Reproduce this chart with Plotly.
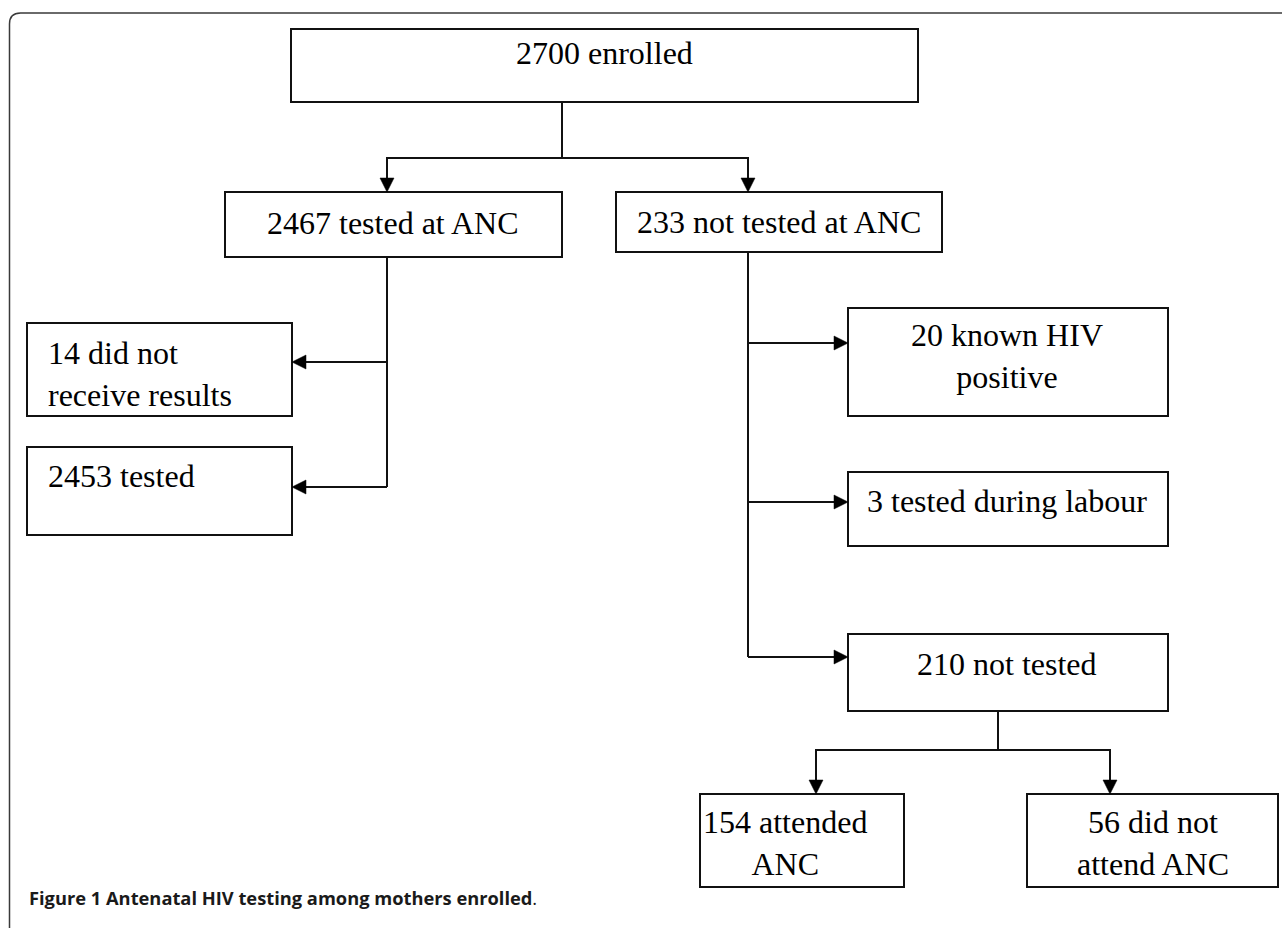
import plotly.graph_objects as go

# ---- data: flow of mothers through antenatal HIV testing ----
node_ids = ["enrolled", "tested_anc", "not_tested_anc", "no_results", "tested",
            "known_pos", "tested_labour", "not_tested", "attended", "not_attended"]
node_counts = [2700, 2467, 233, 14, 2453, 20, 3, 210, 154, 56]
node_texts = ["enrolled", "tested at ANC", "not tested at ANC", "did not<br>receive results",
              "tested", "known HIV<br>positive", "tested during labour", "not tested",
              "attended<br>ANC", "did not<br>attend ANC"]
edges = [("enrolled", "tested_anc"), ("enrolled", "not_tested_anc"),
         ("tested_anc", "no_results"), ("tested_anc", "tested"),
         ("not_tested_anc", "known_pos"), ("not_tested_anc", "tested_labour"),
         ("not_tested_anc", "not_tested"),
         ("not_tested", "attended"), ("not_tested", "not_attended")]
caption = "Figure 1 Antenatal HIV testing among mothers enrolled"

# ---- layout (pixel space of the page) ----
W, H = 1282, 928
boxes = {  # x0, x1, y0, y1
    "enrolled": (291, 918, 29, 102),
    "tested_anc": (225, 562, 192, 257),
    "not_tested_anc": (616, 942, 192, 252),
    "no_results": (27, 292, 323, 416),
    "tested": (27, 292, 447, 535),
    "known_pos": (848, 1168, 308, 416),
    "tested_labour": (848, 1168, 472, 546),
    "not_tested": (848, 1168, 634, 711),
    "attended": (700, 904, 794, 887),
    "not_attended": (1027, 1278, 794, 887),
}
text_pos = {  # x, y, xanchor
    "enrolled": (604, 53, "center"),
    "tested_anc": (393, 223, "center"),
    "not_tested_anc": (779, 222, "center"),
    "no_results": (46, 374, "left"),
    "tested": (46, 476, "left"),
    "known_pos": (1007, 356, "center"),
    "tested_labour": (1007, 501, "center"),
    "not_tested": (1007, 664, "center"),
    "attended": (785, 843, "center"),
    "not_attended": (1153, 843, "center"),
}
trunks = {
    "enrolled": [(562, 102), (562, 158)],
    "tested_anc": [(387, 257), (387, 487)],
    "not_tested_anc": [(748, 252), (748, 657)],
    "not_tested": [(998, 711), (998, 750)],
}
branches = {
    ("enrolled", "tested_anc"): [(562, 158), (387, 158), (387, 192)],
    ("enrolled", "not_tested_anc"): [(562, 158), (748, 158), (748, 192)],
    ("tested_anc", "no_results"): [(387, 362), (292, 362)],
    ("tested_anc", "tested"): [(387, 487), (292, 487)],
    ("not_tested_anc", "known_pos"): [(748, 343), (848, 343)],
    ("not_tested_anc", "tested_labour"): [(748, 502), (848, 502)],
    ("not_tested_anc", "not_tested"): [(748, 657), (848, 657)],
    ("not_tested", "attended"): [(998, 750), (816, 750), (816, 794)],
    ("not_tested", "not_attended"): [(998, 750), (1110, 750), (1110, 794)],
}

LINE = "#111111"
FONT = "Liberation Serif, Times New Roman, serif"
FS = 32
AL, AW = 14, 7  # arrow length, half-width

fig = go.Figure()
shapes = []
annotations = []

# outer frame with rounded top-left corner
shapes.append(dict(type="path", xref="x", yref="y",
                   path=f"M 9.5,{H} L 9.5,24 Q 9.5,13 20.5,13 L {W},13",
                   line=dict(color="#3a3a3a", width=1.5)))

for nid, cnt, txt in zip(node_ids, node_counts, node_texts):
    x0, x1, y0, y1 = boxes[nid]
    shapes.append(dict(type="rect", xref="x", yref="y", x0=x0, x1=x1, y0=y0, y1=y1,
                       line=dict(color=LINE, width=2), fillcolor="white", layer="above"))
    tx, ty, xa = text_pos[nid]
    annotations.append(dict(x=tx, y=ty, xref="x", yref="y", text=f"{cnt} {txt}",
                            showarrow=False, xanchor=xa, yanchor="middle", align=xa,
                            font=dict(family=FONT, size=FS, color="black")))


def poly_path(pts):
    return "M " + " L ".join(f"{x},{y}" for x, y in pts)


for nid, pts in trunks.items():
    shapes.append(dict(type="path", xref="x", yref="y", path=poly_path(pts),
                       line=dict(color=LINE, width=2)))

for (p, c), pts in branches.items():
    (xa_, ya_), (xt, yt) = pts[-2], pts[-1]
    dx = (xt > xa_) - (xt < xa_)
    dy = (yt > ya_) - (yt < ya_)
    bx, by = xt - dx * AL, yt - dy * AL
    line_pts = pts[:-1] + [(bx, by)]
    shapes.append(dict(type="path", xref="x", yref="y", path=poly_path(line_pts),
                       line=dict(color=LINE, width=2)))
    px, py = -dy, dx
    tri = [(xt, yt), (bx + px * AW, by + py * AW), (bx - px * AW, by - py * AW)]
    shapes.append(dict(type="path", xref="x", yref="y", path=poly_path(tri) + " Z",
                       fillcolor="black", line=dict(color="black", width=0.5)))

annotations.append(dict(x=27, y=897, xref="x", yref="y", showarrow=False,
                        xanchor="left", yanchor="middle",
                        text=f"<b>{caption}</b>.",
                        font=dict(family="Open Sans, Noto Sans, sans-serif", size=18.3,
                                  color="#1a1a1a")))

fig.update_layout(
    width=W, height=H, margin=dict(l=0, r=0, t=0, b=0),
    plot_bgcolor="white", paper_bgcolor="white",
    xaxis=dict(range=[0, W], visible=False, fixedrange=True),
    yaxis=dict(range=[H, 0], visible=False, fixedrange=True),
    shapes=shapes, annotations=annotations, showlegend=False,
)
fig.write_html("out.html", config={"displayModeBar": False},
               post_script="document.body.style.margin='0';document.body.style.overflow='hidden';")
